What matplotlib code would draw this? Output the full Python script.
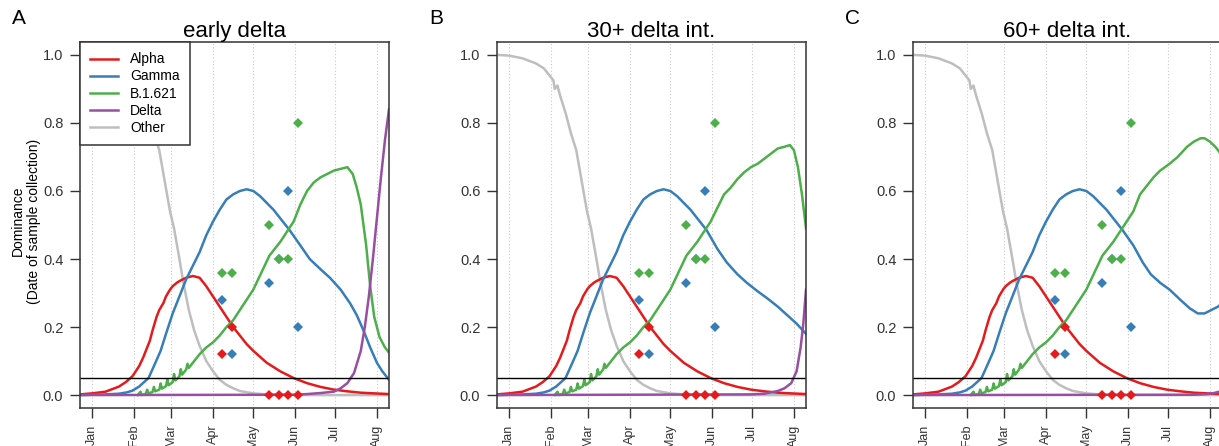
"""Variant dominance curves, three intervention scenarios."""

import numpy as np

import matplotlib
matplotlib.use('Agg')
import matplotlib.pyplot as plt

plt.rcParams['font.family'] = ['Liberation Sans', 'DejaVu Sans']

# days counted from Jan 1
month_days = [0, 31, 59, 90, 120, 151, 181, 212]
month_labels = ['Jan', 'Feb', 'Mar', 'Apr', 'May', 'Jun', 'Jul', 'Aug']

titles = ['early delta', '30+ delta int.', '60+ delta int.']
letters = ['A', 'B', 'C']
variants = ['Alpha', 'Gamma', 'B.1.621', 'Delta', 'Other']

red = '#E41A1C'
blue = '#377EB8'
green = '#4DAF4A'
purple = '#984EA3'
grey = '#BEBEBE'

other_days = [-9, 0, 10, 20, 26, 30, 33, 34, 36, 38, 42, 46, 50, 54, 58, 61, 65,
              68, 72, 76, 80, 85, 90, 95, 100, 105, 110, 120, 130, 140, 150, 221]
other_vals = [1.0, 0.998, 0.99, 0.975, 0.96, 0.94, 0.925, 0.90, 0.91, 0.88, 0.83,
              0.77, 0.72, 0.63, 0.54, 0.49, 0.40, 0.33, 0.25, 0.19, 0.145, 0.10,
              0.07, 0.045, 0.03, 0.02, 0.012, 0.005, 0.002, 0.001, 0.0, 0.0]

alpha_days = [-9, 0, 10, 20, 25, 30, 35, 38, 40, 43, 45, 48, 50, 53, 55, 58, 60,
              63, 65, 70, 75, 80, 85, 90, 95, 100, 105, 110, 115, 120, 130, 140,
              150, 160, 170, 180, 190, 200, 210, 221]
alpha_vals = [0.002, 0.005, 0.01, 0.025, 0.038, 0.055, 0.085, 0.11, 0.13, 0.16,
              0.19, 0.23, 0.25, 0.27, 0.29, 0.31, 0.32, 0.33, 0.335, 0.345, 0.35,
              0.345, 0.32, 0.29, 0.26, 0.23, 0.20, 0.175, 0.15, 0.13, 0.095, 0.07,
              0.05, 0.035, 0.024, 0.016, 0.011, 0.007, 0.005, 0.003]

# gamma: common part, then one tail per scenario
gamma_days = [-9, 0, 10, 20, 26, 30, 35, 42, 46, 51, 55, 60, 65, 70, 75, 80, 85,
              90, 95, 100, 105, 110, 115, 120, 125, 130, 135, 140, 147]
gamma_vals = [0.0, 0.001, 0.002, 0.004, 0.008, 0.013, 0.025, 0.05, 0.085, 0.13,
              0.18, 0.24, 0.29, 0.34, 0.38, 0.42, 0.47, 0.51, 0.545, 0.575, 0.59,
              0.60, 0.605, 0.60, 0.585, 0.565, 0.545, 0.52, 0.485]
gamma_tail_days_a = [155, 162, 170, 177, 185, 192, 197, 202, 207, 212, 216, 221]
gamma_tail_vals_a = [0.44, 0.40, 0.37, 0.345, 0.31, 0.27, 0.235, 0.19, 0.14,
                     0.095, 0.07, 0.045]
gamma_tail_days_b = [155, 162, 170, 177, 185, 192, 200, 207, 214, 221]
gamma_tail_vals_b = [0.43, 0.39, 0.355, 0.33, 0.305, 0.285, 0.26, 0.235, 0.21, 0.18]
gamma_tail_days_c = [155, 162, 168, 175, 182, 190, 197, 203, 208, 213, 218, 221]
gamma_tail_vals_c = [0.44, 0.39, 0.355, 0.33, 0.31, 0.28, 0.255, 0.24, 0.24,
                     0.25, 0.26, 0.27]

b1621_days = [34, 36, 37, 40, 41, 42, 45, 46, 47, 50, 51, 52, 55, 56, 57, 60, 61,
              62, 65, 66, 67, 70, 71, 72, 76, 80, 85, 90, 95, 100, 105, 110, 115,
              120, 126, 132, 140, 145, 150]
b1621_vals = [0.0, 0.01, 0.0, 0.004, 0.016, 0.005, 0.009, 0.024, 0.011, 0.016,
              0.034, 0.019, 0.026, 0.046, 0.029, 0.038, 0.062, 0.043, 0.055, 0.076,
              0.06, 0.075, 0.092, 0.08, 0.10, 0.12, 0.14, 0.155, 0.175, 0.20, 0.22,
              0.25, 0.28, 0.31, 0.36, 0.41, 0.45, 0.48, 0.51]
b1621_tail_days_a = [155, 160, 165, 170, 175, 180, 185, 190, 194, 197, 200, 204,
                     207, 210, 214, 218, 221]
b1621_tail_vals_a = [0.56, 0.60, 0.625, 0.64, 0.65, 0.66, 0.665, 0.67, 0.65, 0.61,
                     0.56, 0.44, 0.32, 0.23, 0.17, 0.14, 0.125]
b1621_tail_days_b = [155, 160, 165, 170, 175, 180, 185, 190, 195, 200, 205, 209,
                     212, 215, 218, 221]
b1621_tail_vals_b = [0.55, 0.59, 0.61, 0.635, 0.655, 0.67, 0.68, 0.695, 0.71,
                     0.725, 0.73, 0.735, 0.72, 0.67, 0.59, 0.49]
b1621_tail_days_c = [155, 160, 165, 170, 175, 182, 188, 195, 200, 205, 208, 212,
                     216, 219, 221]
b1621_tail_vals_c = [0.54, 0.59, 0.615, 0.64, 0.66, 0.68, 0.70, 0.73, 0.745,
                     0.755, 0.755, 0.745, 0.73, 0.715, 0.70]

delta_days_a = [-9, 150, 160, 170, 180, 185, 190, 195, 200, 203, 206, 209, 212,
                215, 218, 221]
delta_vals_a = [0.0, 0.001, 0.003, 0.006, 0.01, 0.02, 0.035, 0.065, 0.13, 0.2,
                0.29, 0.4, 0.52, 0.64, 0.75, 0.84]
delta_days_b = [-9, 180, 190, 200, 205, 210, 214, 217, 219, 221]
delta_vals_b = [0.0, 0.002, 0.004, 0.012, 0.02, 0.035, 0.07, 0.14, 0.21, 0.31]
delta_days_c = [-9, 200, 210, 215, 221]
delta_vals_c = [0.0, 0.001, 0.003, 0.006, 0.012]

# observed proportions (weekly samples)
obs_days = [97, 104, 132, 139, 146, 153]
obs_alpha = [0.12, 0.20, 0.0, 0.0, 0.0, 0.0]
obs_gamma = [0.28, 0.12, 0.33, 0.40, 0.60, 0.20]
obs_b1621 = [0.36, 0.36, 0.50, 0.40, 0.40, 0.80]

gamma_tails = [(gamma_tail_days_a, gamma_tail_vals_a),
               (gamma_tail_days_b, gamma_tail_vals_b),
               (gamma_tail_days_c, gamma_tail_vals_c)]
b1621_tails = [(b1621_tail_days_a, b1621_tail_vals_a),
               (b1621_tail_days_b, b1621_tail_vals_b),
               (b1621_tail_days_c, b1621_tail_vals_c)]
deltas = [(delta_days_a, delta_vals_a),
          (delta_days_b, delta_vals_b),
          (delta_days_c, delta_vals_c)]

W, H = 1219, 446
fig = plt.figure(figsize=(W/100, H/100), dpi=100)

lefts = [80, 497, 913]
lw = 1.8

for i in range(3):
    ax = fig.add_axes([lefts[i]/W, 38/H, 309/W, 366/H])

    for d in month_days:
        ax.axvline(d, color='#C8C8C8', ls=(0, (1, 2)), lw=0.8, zorder=0)

    ax.plot(other_days, other_vals, color=grey, lw=lw)
    ax.plot(alpha_days, alpha_vals, color=red, lw=lw)
    gd = gamma_days + gamma_tails[i][0]
    gv = gamma_vals + gamma_tails[i][1]
    ax.plot(gd, gv, color=blue, lw=lw)
    bd = b1621_days + b1621_tails[i][0]
    bv = b1621_vals + b1621_tails[i][1]
    ax.plot(bd, bv, color=green, lw=lw)
    ax.plot(deltas[i][0], deltas[i][1], color=purple, lw=lw)

    ax.axhline(0.05, color='black', lw=1)

    ms = 5.5
    ax.plot(obs_days, obs_alpha, 'D', color=red, ms=ms, mew=0)
    ax.plot(obs_days, obs_gamma, 'D', color=blue, ms=ms, mew=0)
    ax.plot(obs_days, obs_b1621, 'D', color=green, ms=ms, mew=0)

    ax.set_xlim(-9, 221)
    ax.set_ylim(-0.038, 1.038)
    ax.set_yticks([0.0, 0.2, 0.4, 0.6, 0.8, 1.0])
    ax.set_yticklabels(['0.0', '0.2', '0.4', '0.6', '0.8', '1.0'])
    ax.set_xticks(month_days)
    ax.set_xticklabels(month_labels, rotation=90, fontsize=9)
    ax.tick_params(axis='y', labelsize=10.5, length=7, width=1, pad=5,
                   colors='#333333')
    ax.tick_params(axis='x', length=7, width=1, pad=5, colors='#333333')
    for s in ax.spines.values():
        s.set_color('#333333')
        s.set_linewidth(1.1)

    ax.set_title(titles[i], fontsize=16, pad=3)
    fig.text((lefts[i] - 68)/W, 1 - 19/H, letters[i], fontsize=15,
             ha='left', va='center')

    if i == 0:
        handles = [plt.Line2D([], [], color=c, lw=lw)
                   for c in [red, blue, green, purple, grey]]
        leg = ax.legend(handles, variants, loc='upper left',
                        bbox_to_anchor=(0, 1), borderaxespad=0,
                        fontsize=10, fancybox=False, framealpha=1,
                        edgecolor='#333333', handlelength=2.0,
                        labelspacing=0.22, borderpad=0.75, handletextpad=0.85)
        leg.get_frame().set_linewidth(1.1)

fig.text(18/W, 1 - 221/H, 'Dominance', rotation=90,
         fontsize=10, ha='center', va='center')
fig.text(34/W, 1 - 221/H, '(Date of sample collection)', rotation=90,
         fontsize=10, ha='center', va='center')

fig.savefig('out.png', dpi=100)
